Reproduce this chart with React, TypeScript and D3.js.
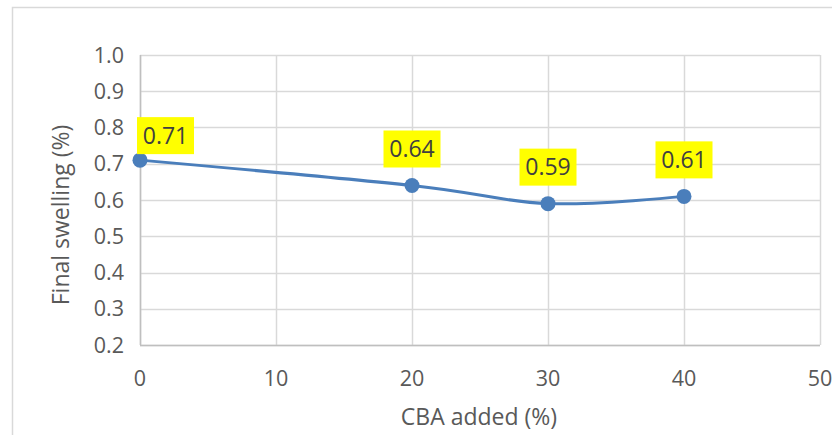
import { useEffect, useRef } from "react";
import * as d3 from "d3";

// data
const cbaAdded: number[] = [0, 20, 30, 40];
const finalSwelling: number[] = [0.71, 0.64, 0.59, 0.61];
const valueLabels: string[] = ["0.71", "0.64", "0.59", "0.61"];
const xTicks: number[] = [0, 10, 20, 30, 40, 50];
const yTicks: number[] = [0.2, 0.3, 0.4, 0.5, 0.6, 0.7, 0.8, 0.9, 1.0];

const W = 832;
const H = 435;
const FONT = "'Open Sans', sans-serif";

export default function App() {
    const svgRef = useRef<SVGSVGElement | null>(null);
    const margin = { top: 55, right: 12, bottom: 90, left: 140 };

    useEffect(() => {
        const svg = d3.select(svgRef.current);
        svg.selectAll("*").remove();

        const x = d3.scaleLinear().domain([0, 50]).range([margin.left, W - margin.right]);
        const y = d3.scaleLinear().domain([0.2, 1.0]).range([H - margin.bottom, margin.top]);

        svg.append("rect")
            .attr("width", W).attr("height", H).attr("fill", "white");

        // outer chart frame (runs off the right and bottom edge)
        svg.append("rect")
            .attr("x", 12.5).attr("y", 7.5)
            .attr("width", W + 20).attr("height", H + 20)
            .attr("fill", "none").attr("stroke", "#d9d9d9").attr("stroke-width", 1.5);

        // gridlines
        svg.append("g").selectAll("line")
            .data(yTicks)
            .join("line")
            .attr("x1", x(0)).attr("x2", x(50))
            .attr("y1", (d) => Math.round(y(d)) + 0.5).attr("y2", (d) => Math.round(y(d)) + 0.5)
            .attr("stroke", "#d9d9d9").attr("stroke-width", 1.5);
        svg.append("g").selectAll("line")
            .data(xTicks)
            .join("line")
            .attr("x1", (d) => Math.round(x(d)) + 0.5).attr("x2", (d) => Math.round(x(d)) + 0.5)
            .attr("y1", y(0.2)).attr("y2", y(1.0))
            .attr("stroke", "#d9d9d9").attr("stroke-width", 1.5);
        // axis lines
        svg.append("line")
            .attr("x1", x(0)).attr("x2", x(50))
            .attr("y1", Math.round(y(0.2)) + 0.5).attr("y2", Math.round(y(0.2)) + 0.5)
            .attr("stroke", "#bfbfbf").attr("stroke-width", 1.5);
        svg.append("line")
            .attr("x1", Math.round(x(0)) + 0.5).attr("x2", Math.round(x(0)) + 0.5)
            .attr("y1", y(0.2)).attr("y2", y(1.0))
            .attr("stroke", "#bfbfbf").attr("stroke-width", 1.5);

        // tick labels
        svg.append("g").selectAll("text")
            .data(yTicks)
            .join("text")
            .attr("x", x(0) - 16).attr("y", (d) => y(d))
            .attr("dy", "0.35em")
            .attr("text-anchor", "end")
            .style("font-family", FONT).style("font-size", "21.5px").attr("fill", "#595959")
            .text((d) => d3.format(".1f")(d));
        svg.append("g").selectAll("text")
            .data(xTicks)
            .join("text")
            .attr("x", (d) => x(d)).attr("y", y(0.2) + 33)
            .attr("dy", "0.35em")
            .attr("text-anchor", "middle")
            .style("font-family", FONT).style("font-size", "21.5px").attr("fill", "#595959")
            .text((d) => String(d));

        // axis titles
        svg.append("text")
            .attr("x", (x(0) + x(50)) / 2 - 1).attr("y", 417)
            .attr("dy", "0.35em")
            .attr("text-anchor", "middle")
            .style("font-family", FONT).style("font-size", "23px").attr("fill", "#595959")
            .text("CBA added (%)");
        svg.append("text")
            .attr("transform", `translate(61, 215) rotate(-90)`)
            .attr("dy", "0.35em")
            .attr("text-anchor", "middle")
            .style("font-family", FONT).style("font-size", "23px").attr("fill", "#595959")
            .text("Final swelling (%)");

        const pts: [number, number][] = cbaAdded.map((c, i) => [x(c), y(finalSwelling[i])]);

        // smoothed line like Excel
        const line = d3.line().curve(d3.curveCardinal.tension(0));
        svg.append("path")
            .attr("d", line(pts))
            .attr("fill", "none")
            .attr("stroke", "#4a7ebb")
            .attr("stroke-width", 3);

        svg.append("g").selectAll("circle")
            .data(pts)
            .join("circle")
            .attr("cx", (d) => d[0]).attr("cy", (d) => d[1])
            .attr("r", 7.5)
            .attr("fill", "#4a7ebb");

        // yellow data labels
        const bw = 57;
        const bh = 37;
        const labels = svg.append("g");
        pts.forEach(([px, py], i) => {
            const shifted = px - bw / 2 < x(0) - 3;
            const cx = shifted ? x(0) - 3 + bw / 2 : px;
            const bottom = shifted ? py - 6 : py - 18;
            labels.append("rect")
                .attr("x", cx - bw / 2).attr("y", bottom - bh)
                .attr("width", bw).attr("height", bh)
                .attr("fill", "#ffff00");
            labels.append("text")
                .attr("x", cx).attr("y", bottom - bh / 2)
                .attr("dy", "0.35em")
                .attr("text-anchor", "middle")
                .style("font-family", FONT).style("font-size", "23px").attr("fill", "#404040")
                .text(valueLabels[i]);
        });
    }, []);

    return (
        <svg
            ref={svgRef}
            width={W}
            height={H}
            style={{ position: "absolute", left: 0, top: 0, display: "block" }}
        />
    );
}
